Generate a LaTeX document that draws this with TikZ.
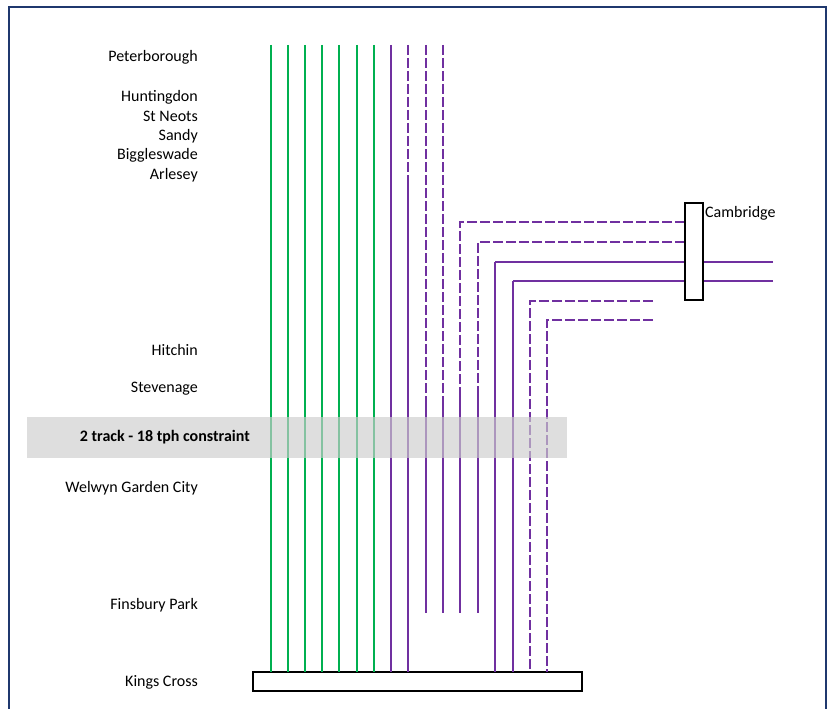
\documentclass[tikz,border=0pt]{standalone}
\usepackage{fontspec}
\setmainfont{Carlito}
\begin{document}
\begin{tikzpicture}[x=1pt,y=-1pt,
  grn/.style={draw={rgb,255:red,0;green,176;blue,80},line width=1.7pt},
  pur/.style={draw={rgb,255:red,112;green,48;blue,160},line width=1.7pt},
  purthin/.style={draw={rgb,255:red,112;green,48;blue,160},line width=1.2pt},
  purdash/.style={draw={rgb,255:red,112;green,48;blue,160},line width=2.3pt,dash pattern=on 10pt off 3pt},
  lbl/.style={anchor=east,inner sep=0pt,font=\fontsize{16}{19}\selectfont},
  boxst/.style={draw=black,line width=1.8pt,fill=white,inner sep=0pt}]
\useasboundingbox (0,0) rectangle (831,709);
% frame
\draw[draw={rgb,255:red,31;green,56;blue,110},line width=2pt] (9,709) -- (9,7) -- (826,7) -- (826,709);
% boxes
\node[boxst,minimum width=329pt,minimum height=19pt] (kx) at (417.5,681.5) {};
\node[boxst,minimum width=18pt,minimum height=97pt] (cam) at (694,251.5) {};
% green tracks
\foreach \x [count=\i] in {271,288,305,322,339,357,374} {
  \coordinate (g\i t) at (\x,45);
  \draw[grn] (g\i t) -- (\x,672);
}
% purple main lines
\coordinate (p1t) at (391,45);
\draw[pur] (p1t) -- (391,672);
\coordinate (p2t) at (408,45); \coordinate (p2m) at (408,185);
\draw[purdash] (p2t) -- (p2m);
\draw[pur] (p2m) -- (408,672);
\coordinate (p3t) at (426,45); \coordinate (p3m) at (426,396); \coordinate (p3b) at (426,613);
\draw[purdash] (p3t) -- (p3m); \draw[pur] (p3m) -- (p3b);
\coordinate (p4t) at (443,45); \coordinate (p4m) at (443,396); \coordinate (p4b) at (443,613);
\draw[purdash] (p4t) -- (p4m); \draw[pur] (p4m) -- (p4b);
% Cambridge branches
\coordinate (c1e) at (685,222); \coordinate (c1c) at (460,222); \coordinate (c1m) at (460,396); \coordinate (c1b) at (460,613);
\draw[purdash] (c1e) -- (c1c) -- (c1m); \draw[pur] (c1m) -- (c1b);
\coordinate (c2e) at (685,242); \coordinate (c2c) at (478,242); \coordinate (c2m) at (478,396); \coordinate (c2b) at (478,613);
\draw[purdash] (c2e) -- (c2c) -- (c2m); \draw[pur] (c2m) -- (c2b);
\coordinate (c3e) at (773,262); \coordinate (c3c) at (495,262);
\draw[purthin] (c3e) -- (c3c); \draw[pur] (c3c) -- (495,672);
\coordinate (c4e) at (773,281); \coordinate (c4c) at (513,281);
\draw[purthin] (c4e) -- (c4c); \draw[pur] (c4c) -- (513,672);
\coordinate (c5e) at (653,301); \coordinate (c5c) at (530,301);
\draw[purdash] (c5e) -- (c5c) -- (530,672);
\coordinate (c6e) at (653,320); \coordinate (c6c) at (547,320);
\draw[purdash] (c6e) -- (c6c) -- (547,672);
% redraw Cambridge box over through lines
\node[boxst,minimum width=18pt,minimum height=97pt] at (cam) {};
\node[anchor=west,inner sep=0pt,font=\fontsize{16}{19}\selectfont] (camlbl) at (705,213) {Cambridge};
% constraint band
\fill[fill={rgb,255:red,205;green,205;blue,205},fill opacity=0.65] (27,417) rectangle (567,458);
\node[lbl,font=\bfseries\fontsize{16}{19}\selectfont] (con) at (250,437) {2 track - 18 tph constraint};
% station labels
\node[lbl] (pet) at (198,57) {Peterborough};
\node[lbl] (hun) at (198,97) {Huntingdon};
\node[lbl] (stn) at (198,116) {St Neots};
\node[lbl] (san) at (198,136) {Sandy};
\node[lbl] (big) at (198,155) {Biggleswade};
\node[lbl] (arl) at (198,175) {Arlesey};
\node[lbl] (hit) at (198,350) {Hitchin};
\node[lbl] (ste) at (198,389) {Stevenage};
\node[lbl] (wel) at (198,488) {Welwyn Garden City};
\node[lbl] (fin) at (198,605) {Finsbury Park};
\node[lbl] (kgx) at (198,682) {Kings Cross};
\end{tikzpicture}
\end{document}
